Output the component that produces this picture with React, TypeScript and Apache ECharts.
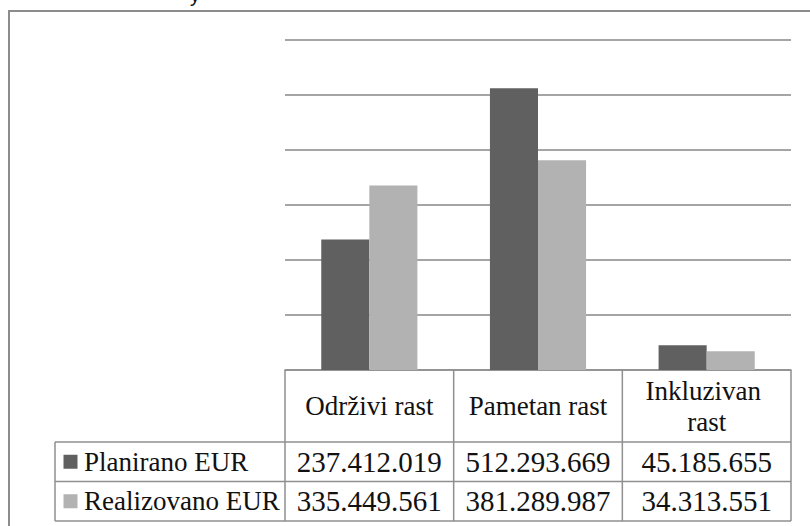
import React, { useEffect, useRef } from "react";
import * as echarts from "echarts";

const categories = ["Održivi rast", "Pametan rast", "Inkluzivan rast"];
const seriesNames = ["Planirano EUR", "Realizovano EUR"];
const planirano = [237412019, 512293669, 45185655];
const realizovano = [335449561, 381289987, 34313551];
const seriesColors = ["#606060", "#b2b2b2"];
const yMax = 600000000;
const yInterval = 100000000;

const fmt = (v: number) => String(v).replace(/\B(?=(\d{3})+(?!\d))/g, ".");

export default function App() {
  const ref = useRef<HTMLDivElement>(null);
  useEffect(() => {
    if (!ref.current) return;
    const chart = echarts.init(ref.current, null, { renderer: "svg" });
    const W = 810;
    const H = 526;
    const gLeft = 285;
    const gRight = 19;
    const gTop = 40;
    const gBottom = 156;
    const plotL = gLeft;
    const plotR = W - gRight;
    const baseY = H - gBottom;
    const colW = (plotR - plotL) / categories.length;
    const tableL = 55;
    const headerBottom = 442;
    const rowH = 39.5;
    const tableBottom = headerBottom + rowH * seriesNames.length;
    const lineColor = "#8f8f8f";
    const fam = "Liberation Serif";
    const textColor = "#111";
    const allData = [planirano, realizovano];

    const graphics: any[] = [];
    graphics.push({
      type: "rect",
      shape: { x: 9, y: 11, width: 1000, height: 1000 },
      style: { fill: "none", stroke: "#8c8c8c", lineWidth: 2 },
      silent: true,
    });
    const ln = (x1: number, y1: number, x2: number, y2: number) =>
      graphics.push({
        type: "line",
        shape: { x1, y1, x2, y2 },
        style: { stroke: lineColor, lineWidth: 1.5 },
        silent: true,
      });
    ln(tableL, headerBottom, plotR, headerBottom);
    for (let r = 1; r <= seriesNames.length; r++) {
      ln(tableL, headerBottom + rowH * r, plotR, headerBottom + rowH * r);
    }
    for (let c = 0; c <= categories.length; c++) {
      const x = plotL + colW * c;
      ln(x, baseY, x, tableBottom);
    }
    ln(tableL, headerBottom, tableL, tableBottom);

    const titles: any[] = [];
    const addText = (
      text: string,
      left: number,
      top: number,
      align: string,
      vAlign: string,
      fontSize: number,
      family: string,
      extra: any = {}
    ) =>
      titles.push({
        text,
        left,
        top,
        padding: 0,
        textAlign: align,
        textVerticalAlign: vAlign,
        textStyle: { fontFamily: family, fontSize, fontWeight: "normal", color: textColor, ...extra },
      });

    addText("y", 190, 5, "left", "bottom", 20, "Liberation Sans");

    categories.forEach((cat, i) => {
      addText(cat, plotL + colW * (i + 0.5), (baseY + headerBottom) / 2, "center", "middle", 27, fam, {
        width: colW - 14,
        overflow: "break",
        lineHeight: 31,
      });
    });
    seriesNames.forEach((name, r) => {
      const cy = headerBottom + rowH * (r + 0.5);
      graphics.push({
        type: "rect",
        shape: { x: 63.5, y: cy - 7, width: 14, height: 14 },
        style: { fill: seriesColors[r] },
      });
      addText(name, 84, cy, "left", "middle", 27, fam);
      allData[r].forEach((v, i) => {
        addText(fmt(v), plotL + colW * (i + 0.5), cy, "center", "middle", 29, fam);
      });
    });

    chart.setOption({
      animation: false,
      backgroundColor: "#fff",
      title: titles,
      grid: { left: gLeft, right: gRight, top: gTop, bottom: gBottom, containLabel: false },
      xAxis: {
        type: "category",
        data: categories,
        axisLine: { show: true, lineStyle: { color: lineColor, width: 1.5 } },
        axisTick: { show: false },
        axisLabel: { show: false },
      },
      yAxis: {
        type: "value",
        min: 0,
        max: yMax,
        interval: yInterval,
        axisLine: { show: false },
        axisTick: { show: false },
        axisLabel: { show: false },
        splitLine: { show: true, lineStyle: { color: "#878787", width: 1.5 } },
      },
      series: [
        {
          name: seriesNames[0],
          type: "bar",
          data: planirano,
          itemStyle: { color: seriesColors[0] },
          barGap: "0%",
          barCategoryGap: "43%",
        },
        {
          name: seriesNames[1],
          type: "bar",
          data: realizovano,
          itemStyle: { color: seriesColors[1] },
          barGap: "0%",
          barCategoryGap: "43%",
        },
      ],
      graphic: graphics,
    });
    return () => chart.dispose();
  }, []);
  return (
    <div
      ref={ref}
      style={{ position: "absolute", left: 0, top: 0, width: 810, height: 526, background: "#fff" }}
    />
  );
}
